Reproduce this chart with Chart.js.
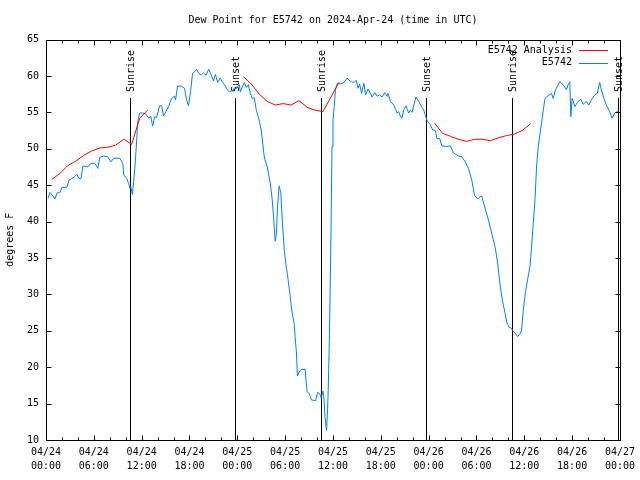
<!DOCTYPE html>
<html>
<head>
<meta charset="utf-8">
<script src="https://cdn.jsdelivr.net/npm/chart.js@4.4.1/dist/chart.umd.min.js"></script>
<style>
  html, body { margin: 0; padding: 0; background: #fff; }
  #wrap { width: 640px; height: 480px; }
</style>
</head>
<body>
<div id="wrap"><canvas id="dewChart" width="640" height="480"></canvas></div>
<script>
// --- data (time = hours since 04/24 00:00 UTC) ---
const chartTitle = 'Dew Point for E5742 on 2024-Apr-24 (time in UTC)';
const yAxisTitle = 'degrees F';
const dayLabels = ['04/24', '04/25', '04/26', '04/27'];

const stationLabel = 'E5742';
const stationHours = [
  0.25,0.5,0.88,1.13,1.38,1.75,2.0,2.63,2.88,3.25,
  3.63,3.88,4.13,4.38,4.63,5.0,5.25,5.63,6.13,6.5,
  6.75,7.25,7.75,8.13,8.5,9.25,9.63,9.75,10.13,10.38,
  10.5,10.63,10.84,11.0,11.19,11.38,11.5,11.75,12.13,12.5,
  12.88,13.13,13.38,13.63,13.88,14.25,14.5,14.75,15.0,15.38,
  15.75,16.13,16.25,16.5,17.0,17.38,17.63,17.88,18.13,18.38,
  18.63,18.88,19.13,19.46,19.75,20.09,20.41,20.71,21.0,21.25,
  21.54,21.84,22.16,22.5,22.75,23.0,23.34,23.63,23.91,24.25,
  24.38,24.63,24.88,25.13,25.38,25.63,25.88,26.13,26.38,26.63,
  27.0,27.38,27.75,28.13,28.38,28.54,28.75,28.91,29.04,29.25,
  29.46,29.66,29.91,30.13,30.29,30.59,30.84,31.13,31.25,31.41,
  31.54,31.75,32.0,32.5,32.75,33.0,33.31,33.81,34.06,34.34,
  34.5,34.75,34.88,35.0,35.19,35.31,35.41,35.56,35.75,35.88,
  36.0,36.16,36.31,36.54,36.96,37.38,37.79,38.0,38.34,38.63,
  38.91,39.16,39.34,39.59,39.88,40.09,40.41,40.71,40.91,41.25,
  41.54,41.84,42.16,42.5,42.79,42.91,43.21,43.63,44.04,44.25,
  44.46,44.66,44.88,45.16,45.5,45.71,45.91,46.41,46.75,47.09,
  47.38,47.59,47.79,48.21,48.5,48.84,49.04,49.38,49.66,50.29,
  50.71,51.13,51.75,52.16,52.59,53.0,53.41,53.75,54.16,54.46,
  54.66,55.09,55.5,55.91,56.34,56.66,56.96,57.25,57.59,57.79,
  58.09,58.34,58.63,58.91,59.16,59.46,59.66,59.88,60.16,60.41,
  60.71,60.91,61.13,61.34,61.54,61.75,62.16,62.59,63.0,63.41,
  63.63,63.91,64.46,64.88,65.29,65.5,65.71,65.84,66.0,66.34,
  66.75,67.09,67.38,67.79,68.09,68.41,68.84,69.16,69.46,69.66,
  70.0,70.29,70.71,71.0,71.34,71.66,71.88
];
const stationValues = [
  43.2,44.0,43.5,43.1,43.9,44.0,44.7,44.7,45.7,45.9,
  46.2,46.5,45.9,45.9,47.6,47.6,47.5,48.0,48.0,47.3,
  48.8,49.0,48.9,48.2,48.7,48.7,48.0,46.4,45.9,45.2,
  44.6,44.8,43.7,45.5,48.0,51.2,53.7,54.9,54.9,54.8,
  54.2,54.5,53.1,54.4,54.3,55.9,55.9,54.5,55.0,55.8,
  56.9,57.2,56.7,58.6,58.6,58.3,56.7,55.9,57.8,60.3,
  60.6,60.9,60.4,60.1,60.4,60.1,60.9,60.2,59.3,60.2,
  59.1,59.7,59.1,58.6,58.1,57.8,58.0,58.3,58.3,58.8,
  57.8,58.5,59.1,58.4,58.8,57.6,56.9,57.0,55.3,54.4,
  52.6,48.9,47.5,45.3,43.0,40.7,37.3,38.4,42.0,44.9,
  43.9,39.8,35.9,33.8,32.7,30.1,27.7,26.0,24.2,22.1,
  18.8,19.3,19.7,19.7,16.6,16.4,15.5,15.4,16.5,16.4,
  15.8,16.7,15.6,13.1,11.3,13.7,17.1,24.5,38.4,50.3,
  53.9,55.8,58.1,59.0,58.9,59.1,59.7,59.4,59.2,59.1,
  59.4,58.3,58.9,57.6,59.0,57.4,58.2,57.6,57.1,57.7,
  57.2,57.4,57.1,57.7,57.2,57.6,56.5,56.0,54.9,55.1,
  54.4,54.2,55.3,55.9,54.9,55.3,55.0,57.1,56.5,55.8,
  55.3,54.6,53.9,53.3,52.6,52.5,51.4,51.4,50.4,50.3,
  50.4,49.4,49.0,48.9,48.2,47.3,45.7,43.6,43.1,43.4,
  43.5,41.8,40.2,38.4,36.5,34.3,31.3,29.2,27.4,26.2,
  25.5,25.4,24.9,24.6,24.2,24.6,25.1,27.9,30.4,32.0,
  33.8,36.5,39.8,43.0,47.5,50.3,53.5,56.9,57.3,57.6,
  56.9,58.1,59.2,58.8,58.1,58.8,59.2,54.4,56.9,55.8,
  56.5,56.8,56.1,56.5,56.0,56.7,57.4,57.6,59.1,58.1,
  56.9,56.0,55.1,54.2,54.9,55.1,55.0
];

// analysis: hourly, three daytime runs (null = gap)
const analysisLabel = 'E5742 Analysis';
const analysisHours = [
  0.75,1.75,2.75,3.75,4.75,5.75,6.75,7.75,8.75,9.75,10.75,11.75,12.75, 18,
  24.75,25.75,26.75,27.75,28.75,29.75,30.75,31.75,32.75,33.75,34.75,35.75,36.75, 42,
  48.75,49.75,50.75,51.75,52.75,53.75,54.75,55.75,56.75,57.75,58.75,59.75,60.75
];
const analysisValues = [
  45.8,46.6,47.7,48.3,49.1,49.7,50.1,50.2,50.5,51.3,50.6,54.2,55.3, null,
  59.9,58.9,57.5,56.5,56.0,56.2,56.0,56.6,55.7,55.3,55.1,57.1,59.1, null,
  53.5,52.1,51.7,51.3,51.0,51.3,51.3,51.1,51.5,51.8,52.0,52.5,53.4
];

const sunEventHours = [10.53, 23.66, 34.45, 47.67, 58.41, 71.75];
const sunEventLabels = ['Sunrise', 'Sunset', 'Sunrise', 'Sunset', 'Sunrise', 'Sunset'];

const FONT = '10px "DejaVu Sans Mono", monospace';
const RED = '#ff0000';
const BLUE = '#0080ff';

const crisp = v => Math.round(v) + 0.5;

// gnuplot-style frame, tics, sun markers, legend and titles
const gnuplotDecor = {
  id: 'gnuplotDecor',
  beforeDatasetsDraw(chart) {
    const { ctx, chartArea: a, scales: { x } } = chart;
    ctx.save();
    ctx.strokeStyle = '#000';
    ctx.fillStyle = '#000';
    ctx.lineWidth = 1;
    ctx.font = FONT;
    sunEventHours.forEach((h, i) => {
      const px = crisp(x.getPixelForValue(h));
      ctx.beginPath();
      ctx.moveTo(px, a.top + 58.5);
      ctx.lineTo(px, a.bottom);
      ctx.stroke();
      ctx.save();
      ctx.translate(px + 1, a.top + 52.5);
      ctx.rotate(-Math.PI / 2);
      ctx.textAlign = 'left';
      ctx.textBaseline = 'middle';
      ctx.fillText(sunEventLabels[i], 0, 0);
      ctx.restore();
    });
    ctx.restore();
  },
  afterDraw(chart) {
    const { ctx, chartArea: a, scales: { x, y } } = chart;
    ctx.save();
    ctx.strokeStyle = '#000';
    ctx.fillStyle = '#000';
    ctx.lineWidth = 1;
    const L = crisp(a.left), R = crisp(a.right), T = crisp(a.top), B = crisp(a.bottom);
    ctx.strokeRect(L, T, R - L, B - T);

    ctx.beginPath();
    for (let h = 0; h <= 72; h += 2) {
      const px = crisp(x.getPixelForValue(h));
      const len = h % 6 === 0 ? 5 : 3;
      ctx.moveTo(px, B); ctx.lineTo(px, B - len);
      ctx.moveTo(px, T); ctx.lineTo(px, T + len);
    }
    for (let v = 10; v <= 65; v += 5) {
      const py = crisp(y.getPixelForValue(v));
      ctx.moveTo(L, py); ctx.lineTo(L + 5, py);
      ctx.moveTo(R, py); ctx.lineTo(R - 5, py);
    }
    ctx.stroke();

    ctx.font = FONT;
    ctx.textBaseline = 'middle';
    // legend
    const rows = [
      { label: analysisLabel, color: RED },
      { label: stationLabel, color: BLUE }
    ];
    rows.forEach((r, i) => {
      const ty = a.top + 10.5 + i * 12.5;
      ctx.fillStyle = '#000';
      ctx.textAlign = 'right';
      ctx.fillText(r.label, a.right - 48, ty);
      ctx.strokeStyle = r.color;
      ctx.beginPath();
      ctx.moveTo(a.right - 41, crisp(ty));
      ctx.lineTo(a.right - 12, crisp(ty));
      ctx.stroke();
    });

    // title
    ctx.fillStyle = '#000';
    ctx.textAlign = 'center';
    ctx.fillText(chartTitle, (a.left + a.right) / 2, 20);

    // y axis title
    ctx.save();
    ctx.translate(10, (a.top + a.bottom) / 2);
    ctx.rotate(-Math.PI / 2);
    ctx.fillText(yAxisTitle, 0, 0);
    ctx.restore();
    ctx.restore();
  }
};

const ctx = document.getElementById('dewChart');
new Chart(ctx, {
  type: 'line',
  data: {
    datasets: [
      {
        label: analysisLabel,
        data: analysisHours.map((h, i) => ({ x: h, y: analysisValues[i] })),
        borderColor: RED,
        borderWidth: 1,
        pointRadius: 0,
        tension: 0,
        spanGaps: false
      },
      {
        label: stationLabel,
        data: stationHours.map((h, i) => ({ x: h, y: stationValues[i] })),
        borderColor: BLUE,
        borderWidth: 1,
        pointRadius: 0,
        tension: 0
      }
    ]
  },
  options: {
    responsive: false,
    animation: false,
    devicePixelRatio: 1,
    layout: { padding: { top: 39.5, right: 18, left: 0, bottom: 0 } },
    plugins: {
      legend: { display: false },
      title: { display: false },
      tooltip: { enabled: false }
    },
    scales: {
      x: {
        type: 'linear',
        min: 0,
        max: 72,
        grid: { display: false, drawTicks: false },
        border: { display: false },
        afterFit: s => { s.height = 40; },
        afterBuildTicks: s => {
          s.ticks = [];
          for (let h = 0; h <= 72; h += 6) s.ticks.push({ value: h });
        },
        ticks: {
          autoSkip: false,
          maxRotation: 0,
          padding: 5,
          color: '#000',
          font: { family: '"DejaVu Sans Mono", monospace', size: 10, lineHeight: 1.4 },
          callback: v => {
            const hh = v % 24;
            return [dayLabels[Math.floor(v / 24)], (hh < 10 ? '0' : '') + hh + ':00'];
          }
        }
      },
      y: {
        min: 10,
        max: 65,
        grid: { display: false, drawTicks: false },
        border: { display: false },
        afterFit: s => { s.width = 46; },
        ticks: {
          stepSize: 5,
          padding: 7,
          color: '#000',
          font: { family: '"DejaVu Sans Mono", monospace', size: 10 }
        }
      }
    }
  },
  plugins: [gnuplotDecor]
});
</script>
</body>
</html>
